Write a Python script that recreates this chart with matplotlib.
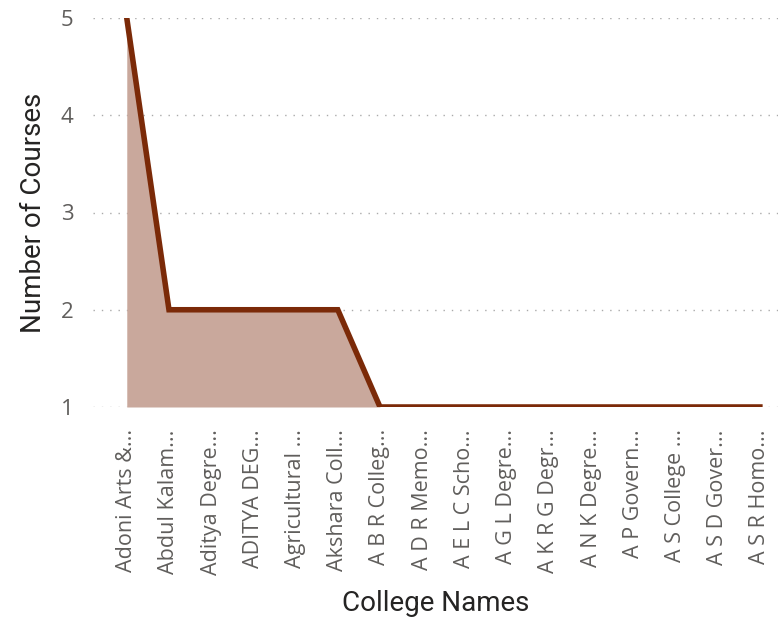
import matplotlib
matplotlib.use("Agg")
import matplotlib.pyplot as plt

colleges = ["Adoni Arts &...", "Abdul Kalam...", "Aditya Degre...", "ADITYA DEG...",
            "Agricultural ...", "Akshara Coll...", "A B R Colleg...", "A D R Memo...",
            "A E L C Scho...", "A G L Degre...", "A K R G Degr...", "A N K Degre...",
            "A P Govern...", "A S College ...", "A S D Gover...", "A S R Homo..."]
courses = [5, 2, 2, 2, 2, 2, 1, 1, 1, 1, 1, 1, 1, 1, 1, 1]

plt.rcParams['font.family'] = ['Open Sans', 'DejaVu Sans']

fig = plt.figure(figsize=(7.82, 6.23), dpi=100)
ax = fig.add_axes([93 / 782, 1 - 407 / 623, (778 - 93) / 782, (407 - 18) / 623])

x = list(range(len(courses)))
ax.fill_between(x, courses, 1, color="#c9a89c", linewidth=0)
ax.plot(x, courses, color="#7b2a08", linewidth=4, solid_joinstyle="miter")

ax.set_ylim(1, 5)
ax.set_xlim(-0.8, 15.43)
ax.set_yticks([1, 2, 3, 4, 5])
ax.yaxis.grid(True, linestyle=(0, (1, 5)), color="#aaaaaa", linewidth=1)
ax.set_axisbelow(True)
for s in ax.spines.values():
    s.set_visible(False)
ax.tick_params(length=0, colors="#605e5c")
ax.tick_params(axis="y", labelsize=16, pad=14)
ax.set_xticks(x)
ax.set_xticklabels(colleges, rotation=90, fontsize=15.5)
ax.tick_params(axis="x", pad=16)

ax.set_xlabel("College Names", fontsize=20, color="#252423", family="Roboto", labelpad=11)
ax.set_ylabel("Number of Courses", fontsize=20, color="#252423", family="Roboto", labelpad=10)

fig.savefig("out.png", dpi=100)
